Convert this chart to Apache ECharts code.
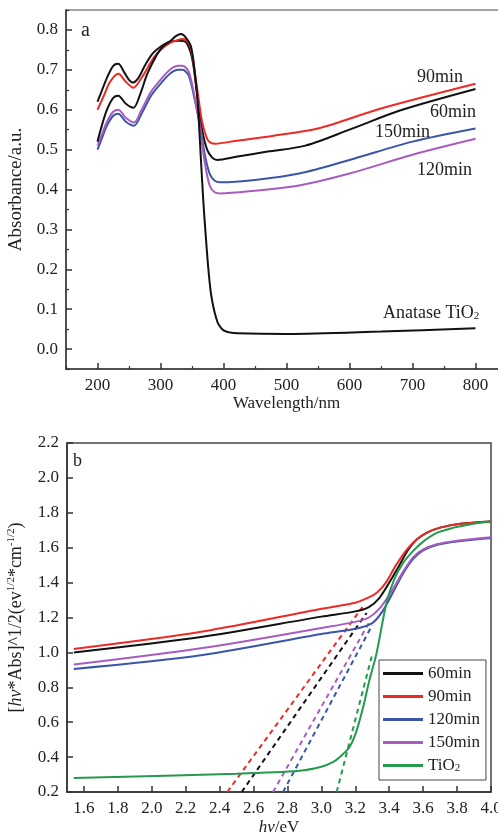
<!DOCTYPE html>
<html>
<head>
<meta charset="utf-8">
<script src="https://cdn.jsdelivr.net/npm/echarts@6/dist/echarts.min.js"></script>
<style>
  html, body { margin: 0; padding: 0; background: #fff; }
  #chart { width: 498px; height: 837px; }
</style>
</head>
<body>
<div id="chart"></div>
<script>
// ---- Panel a: UV-vis absorbance spectra ----
const wl60  = [200, 205, 215, 225, 233, 242, 250, 256, 265, 275, 287, 300, 311, 320, 330, 340, 350, 358, 366, 374, 382, 390, 420, 470, 530, 600, 680, 800];
const abs60 = [0.62, 0.64, 0.68, 0.71, 0.715, 0.695, 0.675, 0.668, 0.68, 0.71, 0.74, 0.758, 0.768, 0.772, 0.773, 0.77, 0.73, 0.64, 0.55, 0.50, 0.48, 0.474, 0.482, 0.495, 0.51, 0.55, 0.598, 0.652];

const wl90  = [200, 210, 220, 233, 245, 257, 270, 289, 300, 316, 328, 335, 340, 348, 358, 366, 374, 380, 387, 420, 480, 550, 650, 800];
const abs90 = [0.60, 0.635, 0.67, 0.69, 0.67, 0.655, 0.68, 0.73, 0.75, 0.768, 0.775, 0.777, 0.775, 0.755, 0.655, 0.57, 0.527, 0.517, 0.515, 0.522, 0.535, 0.553, 0.603, 0.665];

const wl120  = [200, 205, 215, 225, 233, 245, 258, 270, 285, 300, 315, 328, 335, 345, 355, 363, 370, 378, 386, 395, 450, 520, 600, 700, 800];
const abs120 = [0.50, 0.52, 0.56, 0.585, 0.59, 0.57, 0.56, 0.59, 0.635, 0.665, 0.69, 0.70, 0.70, 0.685, 0.62, 0.56, 0.49, 0.44, 0.422, 0.418, 0.424, 0.44, 0.474, 0.52, 0.553];

const wl150  = [200, 205, 215, 225, 233, 245, 258, 270, 285, 300, 315, 328, 335, 345, 355, 363, 370, 378, 386, 395, 450, 520, 600, 700, 800];
const abs150 = [0.51, 0.53, 0.57, 0.595, 0.60, 0.58, 0.568, 0.60, 0.645, 0.675, 0.70, 0.71, 0.71, 0.695, 0.625, 0.55, 0.47, 0.41, 0.393, 0.39, 0.397, 0.41, 0.44, 0.487, 0.527];

const wlAna  = [200, 205, 215, 225, 233, 245, 257, 268, 279, 295, 305, 316, 325, 332, 338, 348, 354, 359, 364, 368, 372, 376, 380, 384, 388, 392, 400, 416, 500, 650, 800];
const absAna = [0.52, 0.55, 0.60, 0.63, 0.635, 0.615, 0.605, 0.64, 0.69, 0.74, 0.76, 0.773, 0.785, 0.79, 0.785, 0.76, 0.70, 0.62, 0.48, 0.37, 0.28, 0.20, 0.14, 0.105, 0.08, 0.062, 0.047, 0.04, 0.038, 0.044, 0.052];

// ---- Panel b: Tauc plots ----
const ev60  = [1.54, 2.3, 3.0, 3.2, 3.28, 3.34, 3.40, 3.46, 3.51, 3.56, 3.62, 3.70, 3.82, 4.0];
const tau60 = [1.00, 1.09, 1.205, 1.235, 1.26, 1.31, 1.40, 1.50, 1.585, 1.645, 1.685, 1.715, 1.737, 1.75];

const ev90  = [1.54, 2.3, 3.0, 3.2, 3.28, 3.33, 3.38, 3.44, 3.50, 3.56, 3.62, 3.70, 3.82, 4.0];
const tau90 = [1.02, 1.12, 1.25, 1.285, 1.315, 1.345, 1.40, 1.50, 1.585, 1.645, 1.685, 1.715, 1.737, 1.75];

const ev120  = [1.54, 2.3, 3.0, 3.2, 3.30, 3.36, 3.42, 3.48, 3.54, 3.60, 3.68, 3.80, 4.0];
const tau120 = [0.905, 0.985, 1.105, 1.135, 1.168, 1.235, 1.34, 1.45, 1.535, 1.585, 1.615, 1.635, 1.655];

const ev150  = [1.54, 2.3, 3.0, 3.2, 3.28, 3.35, 3.42, 3.48, 3.54, 3.60, 3.68, 3.80, 4.0];
const tau150 = [0.93, 1.025, 1.14, 1.175, 1.20, 1.26, 1.36, 1.46, 1.545, 1.59, 1.62, 1.64, 1.66];

const evTi  = [1.54, 2.5, 2.87, 3.0, 3.07, 3.12, 3.166, 3.2, 3.242, 3.283, 3.324, 3.383, 3.43, 3.48, 3.54, 3.60, 3.68, 3.78, 3.88, 4.0];
const tauTi = [0.28, 0.305, 0.322, 0.345, 0.372, 0.41, 0.458, 0.53, 0.67, 0.84, 0.99, 1.28, 1.42, 1.51, 1.58, 1.635, 1.685, 1.715, 1.735, 1.75];

// linear extrapolations of the absorption edges (band-gap fits)
const fit60  = { ev: [2.53, 3.266],  val: [0.2, 1.226] };
const fit90  = { ev: [2.445, 3.242], val: [0.2, 1.26] };
const fit120 = { ev: [2.774, 3.30],  val: [0.2, 1.157] };
const fit150 = { ev: [2.715, 3.283], val: [0.2, 1.174] };
const fitTi  = { ev: [3.09, 3.30],   val: [0.2, 0.99] };

const C_BLACK = '#111111';
const C_RED = '#ee2a24';
const C_BLUE = '#3b55a8';
const C_PURPLE = '#a95cc0';
const C_GREEN = '#239a4c';

const FONT = "'Liberation Serif', 'Times New Roman', serif";

const zip = (xs, ys) => xs.map((x, i) => [x, ys[i]]);

function curve(name, xs, ys, color, axis) {
  return {
    name, type: 'line', data: zip(xs, ys),
    xAxisIndex: axis, yAxisIndex: axis,
    smooth: 0.3,
    showSymbol: false, symbol: 'none',
    lineStyle: { color, width: 2 }, itemStyle: { color },
    silent: true, z: 3
  };
}
function fitLine(name, fit, color) {
  return {
    name, type: 'line', data: zip(fit.ev, fit.val),
    xAxisIndex: 2, yAxisIndex: 2,
    showSymbol: false, symbol: 'none',
    lineStyle: { color, width: 2, type: [5, 4] }, itemStyle: { color },
    silent: true, z: 2
  };
}

const labelStyle = { color: '#222', fontFamily: FONT, fontSize: 17 };
const textItem = (text, x, y, size) => ({
  type: 'text', x, y, silent: true,
  style: { text, font: size + 'px ' + FONT, fill: '#222', verticalAlign: 'middle' }
});

const chart = echarts.init(document.getElementById('chart'), null, { renderer: 'canvas' });

chart.setOption({
  animation: false,
  backgroundColor: '#fff',
  textStyle: { fontFamily: FONT },
  grid: [
    // panel a runs past the right edge of the canvas
    { left: 66, top: 10, width: 441, height: 359, outerBoundsMode: 'none', show: true, borderColor: '#888', borderWidth: 1.5, backgroundColor: 'transparent' },
    { left: 67, top: 443, right: 7, bottom: 45, outerBoundsMode: 'none', show: true, borderColor: '#444', borderWidth: 1.5, backgroundColor: 'transparent' }
  ],
  xAxis: [
    {
      type: 'value', gridIndex: 0, position: 'bottom', min: 150, max: 850, splitNumber: 7,
      axisLine: { onZero: false, lineStyle: { color: '#333', width: 1.5 } },
      axisTick: { inside: true, length: 6, lineStyle: { color: '#333', width: 1.5 } },
      axisLabel: { ...labelStyle, margin: 8, showMinLabel: false, showMaxLabel: false },
      splitLine: { show: false },
      name: 'Wavelength/nm', nameLocation: 'middle', nameGap: 24,
      nameTextStyle: { color: '#222', fontFamily: FONT, fontSize: 17 }
    },
    {
      type: 'value', gridIndex: 0, position: 'bottom', min: 150, max: 850, interval: 100,
      axisLine: { show: false, onZero: false },
      axisTick: { inside: true, length: 3, lineStyle: { color: '#333', width: 1.2 } },
      axisLabel: { show: false }, splitLine: { show: false }
    },
    {
      type: 'value', gridIndex: 1, position: 'bottom', min: 1.5, max: 4.0, splitNumber: 12,
      axisLine: { onZero: false, lineStyle: { color: '#333', width: 1.5 } },
      axisTick: { inside: true, length: 6, lineStyle: { color: '#333', width: 1.5 } },
      axisLabel: { ...labelStyle, margin: 8, showMinLabel: false, formatter: v => v.toFixed(1) },
      splitLine: { show: false },
      name: '{i|hv}/eV', nameLocation: 'middle', nameGap: 27,
      nameTextStyle: { color: '#222', fontFamily: FONT, fontSize: 17, rich: { i: { fontStyle: 'italic', fontFamily: FONT, fontSize: 17, color: '#222' } } }
    }
  ],
  yAxis: [
    {
      type: 'value', gridIndex: 0, position: 'left', min: -0.05, max: 0.85, splitNumber: 9,
      axisLine: { onZero: false, lineStyle: { color: '#333', width: 1.5 } },
      axisTick: { inside: true, length: 6, lineStyle: { color: '#333', width: 1.5 } },
      axisLabel: { ...labelStyle, margin: 8, showMinLabel: false, showMaxLabel: false, formatter: v => v.toFixed(1) },
      splitLine: { show: false },
      name: 'Absorbance/a.u.', nameLocation: 'middle', nameGap: 35,
      nameTextStyle: { color: '#222', fontFamily: FONT, fontSize: 19 }
    },
    {
      type: 'value', gridIndex: 0, position: 'left', min: -0.05, max: 0.85, interval: 0.1,
      axisLine: { show: false, onZero: false },
      axisTick: { inside: true, length: 3, lineStyle: { color: '#333', width: 1.2 } },
      axisLabel: { show: false }, splitLine: { show: false }
    },
    {
      type: 'value', gridIndex: 1, position: 'left', min: 0.2, max: 2.2, interval: 0.2,
      axisLine: { onZero: false, lineStyle: { color: '#333', width: 1.5 } },
      axisTick: { inside: true, length: 6, lineStyle: { color: '#333', width: 1.5 } },
      axisLabel: { ...labelStyle, margin: 8, formatter: v => v.toFixed(1) },
      splitLine: { show: false },
      name: '[{i|hv}*Abs]^1/2(ev{sup|1/2}*cm{sup|-1/2})', nameLocation: 'middle', nameGap: 32,
      nameTextStyle: {
        color: '#222', fontFamily: FONT, fontSize: 18, lineHeight: 21,
        rich: {
          i: { fontStyle: 'italic', fontFamily: FONT, fontSize: 18, color: '#222', lineHeight: 21 },
          sup: { fontFamily: FONT, fontSize: 11, color: '#222', verticalAlign: 'top', lineHeight: 21 }
        }
      }
    }
  ],
  legend: {
    data: [
      { name: '60min', icon: 'rect' },
      { name: '90min', icon: 'rect' },
      { name: '120min', icon: 'rect' },
      { name: '150min', icon: 'rect' },
      { name: 'TiO2', icon: 'rect' }
    ],
    orient: 'vertical', left: 379, top: 660,
    padding: [5, 6, 6, 4], itemGap: 6, itemWidth: 40, itemHeight: 3,
    borderColor: '#444', borderWidth: 1, backgroundColor: '#fff',
    selectedMode: false,
    formatter: name => name === 'TiO2' ? 'TiO{s|2}' : name,
    textStyle: {
      color: '#222', fontFamily: FONT, fontSize: 17, lineHeight: 17,
      rich: { s: { fontFamily: FONT, fontSize: 11, color: '#222', verticalAlign: 'bottom', lineHeight: 17 } }
    }
  },
  series: [
    curve('a60', wl60, abs60, C_BLACK, 0),
    curve('a90', wl90, abs90, C_RED, 0),
    curve('a120', wl120, abs120, C_BLUE, 0),
    curve('a150', wl150, abs150, C_PURPLE, 0),
    curve('aTi', wlAna, absAna, C_BLACK, 0),
    fitLine('f60', fit60, C_BLACK),
    fitLine('f90', fit90, C_RED),
    fitLine('f120', fit120, C_BLUE),
    fitLine('f150', fit150, C_PURPLE),
    fitLine('fTi', fitTi, C_GREEN),
    curve('60min', ev60, tau60, C_BLACK, 2),
    curve('90min', ev90, tau90, C_RED, 2),
    curve('120min', ev120, tau120, C_BLUE, 2),
    curve('150min', ev150, tau150, C_PURPLE, 2),
    curve('TiO2', evTi, tauTi, C_GREEN, 2)
  ],
  graphic: [
    textItem('a', 81, 31, 20),
    textItem('b', 73, 461, 18),
    textItem('90min', 417, 77, 18),
    textItem('60min', 430, 112, 18),
    textItem('150min', 375, 132, 18),
    textItem('120min', 417, 170, 18),
    {
      type: 'text', x: 383, y: 313, silent: true,
      style: {
        text: 'Anatase TiO{s|2}', font: '18px ' + FONT, fill: '#222', verticalAlign: 'middle',
        rich: { s: { fontSize: 11, fontFamily: FONT, fill: '#222', verticalAlign: 'bottom' } }
      }
    }
  ]
});
</script>
</body>
</html>
